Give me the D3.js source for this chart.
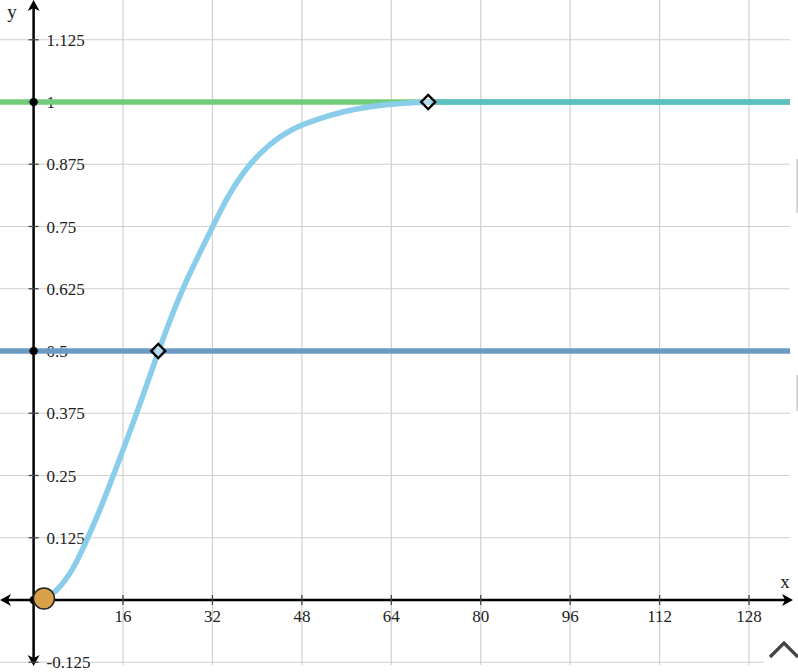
<!DOCTYPE html>
<html lang="en">
<head>
<meta charset="UTF-8">
<title>Curve</title>
<script src="https://d3js.org/d3.v7.min.js"></script>
<style>
    body { margin: 0; background: #fff; }
    svg { display: block; }
    .tick-label { font-family: "Liberation Serif", serif; font-size: 17px; fill: #222; }
    .axis-name { font-family: "Liberation Serif", serif; font-size: 19px; fill: #222; }
</style>
</head>
<body>
<svg id="chart" width="798" height="672"></svg>
<script>
    // tick values
    const xTicks = [16, 32, 48, 64, 80, 96, 112, 128];
    const yTicks = [-0.125, 0.125, 0.25, 0.375, 0.5, 0.625, 0.75, 0.875, 1, 1.125];
    const yTickLabels = ["-0.125", "0.125", "0.25", "0.375", "0.5", "0.625", "0.75", "0.875", "1", "1.125"];

    // rising curve
    const curveX = [1.85, 3.8, 7.1, 9.5, 11.9, 14.3, 18.5, 22.3, 26.5, 31.9, 34.8, 38.4, 42.0, 46.2, 51.2, 55.4, 60.2, 65.0, 70.6];
    const curveY = [0.003, 0.013, 0.060, 0.12, 0.181, 0.251, 0.375, 0.5, 0.625, 0.746, 0.813, 0.873, 0.914, 0.947, 0.967, 0.981, 0.991, 0.997, 1.0];
    // flat tail after the top point
    const tailX = [70.6, 136];
    const tailY = [1, 1];

    // horizontal lines y = 1 and y = 0.5
    const hLines = [1, 0.5];
    const hColors = ["#74cc7a", "#6b9bc4"];

    // marked points
    const diamondX = [22.3, 70.6];
    const diamondY = [0.5, 1];
    const startX = 1.85, startY = 0.003;
    const axisDotsY = [1, 0.5, 0];

    const paperW = 790, paperH = 665;

    const x = d3.scaleLinear().domain([0, 128]).range([33.6, 749]);
    const y = d3.scaleLinear().domain([0, 1]).range([600, 102]);

    const svg = d3.select("#chart");

    svg.append("clipPath").attr("id", "paper")
        .append("rect").attr("width", paperW).attr("height", paperH);

    // gridlines
    const grid = svg.append("g").attr("clip-path", "url(#paper)")
        .attr("stroke", "#cfcfcf").attr("stroke-width", 1.2);
    const xGrid = d3.range(-16, 144, 16);
    grid.selectAll(".gx").data(xGrid).join("line")
        .attr("x1", d => x(d)).attr("x2", d => x(d))
        .attr("y1", 0).attr("y2", paperH);
    grid.selectAll(".gy").data(yTicks).join("line")
        .attr("y1", d => y(d)).attr("y2", d => y(d))
        .attr("x1", 0).attr("x2", paperW);

    // tick labels
    svg.selectAll(".xl").data(xTicks).join("text")
        .attr("class", "tick-label")
        .attr("x", d => x(d)).attr("y", y(0) + 22)
        .attr("text-anchor", "middle")
        .text(d => d);
    svg.selectAll(".yl").data(yTicks).join("text")
        .attr("class", "tick-label")
        .attr("x", x(0) + 13).attr("y", d => y(d) + 6)
        .text((d, i) => yTickLabels[i]);

    // horizontal lines
    const lines = svg.append("g").attr("clip-path", "url(#paper)");
    lines.selectAll("line").data(hLines).join("line")
        .attr("x1", 0).attr("x2", paperW)
        .attr("y1", d => y(d)).attr("y2", d => y(d))
        .attr("stroke", (d, i) => hColors[i])
        .attr("stroke-width", 5.5);

    // curve (B-spline smooths reading noise)
    const line = d3.line()
        .x(d => x(d[0])).y(d => y(d[1]))
        .curve(d3.curveBasis);
    lines.append("path")
        .attr("d", line(d3.zip(tailX, tailY)))
        .attr("fill", "none").attr("stroke", "#5cbfc0").attr("stroke-width", 5.5);
    lines.append("path")
        .attr("d", line(d3.zip(curveX, curveY)))
        .attr("fill", "none").attr("stroke", "#8acdea")
        .attr("stroke-width", 5.5).attr("stroke-linecap", "round");

    // axes
    const ax = svg.append("g").attr("stroke", "#000").attr("fill", "#000");
    ax.append("line").attr("x1", 4).attr("x2", 790)
        .attr("y1", y(0)).attr("y2", y(0)).attr("stroke-width", 2.5);
    ax.append("line").attr("x1", x(0)).attr("x2", x(0))
        .attr("y1", 4).attr("y2", 662).attr("stroke-width", 2.5);

    function arrow(tx, ty, angle) {
        ax.append("path")
            .attr("d", "M0,0 L-11,-6 L-8,0 L-11,6 Z")
            .attr("stroke", "none")
            .attr("transform", `translate(${tx},${ty}) rotate(${angle})`);
    }
    arrow(793, y(0), 0);
    arrow(0, y(0), 180);
    arrow(x(0), 0, -90);
    arrow(x(0), 666, 90);

    // small ticks
    ax.selectAll(".tx").data(xTicks).join("line")
        .attr("x1", d => x(d)).attr("x2", d => x(d))
        .attr("y1", y(0) - 5).attr("y2", y(0) + 5)
        .attr("stroke", "#444").attr("stroke-width", 1.3);
    ax.selectAll(".ty").data(yTicks).join("line")
        .attr("y1", d => y(d)).attr("y2", d => y(d))
        .attr("x1", x(0) - 5).attr("x2", x(0) + 5)
        .attr("stroke", "#444").attr("stroke-width", 1.3);

    svg.append("text").attr("class", "axis-name")
        .attr("x", 785).attr("y", 588).attr("text-anchor", "middle").text("x");
    svg.append("text").attr("class", "axis-name")
        .attr("x", 12).attr("y", 18).attr("text-anchor", "middle").text("y");

    // dots where the lines meet the y-axis
    svg.selectAll(".ad").data(axisDotsY).join("circle")
        .attr("cx", x(0)).attr("cy", d => y(d)).attr("r", 4).attr("fill", "#000");

    // hollow diamonds
    svg.selectAll(".dm").data(diamondX).join("rect")
        .attr("x", -5).attr("y", -5).attr("width", 10).attr("height", 10)
        .attr("transform", (d, i) => `translate(${x(d)},${y(diamondY[i])}) rotate(45)`)
        .attr("fill", "#fff").attr("fill-opacity", 0.35)
        .attr("stroke", "#000").attr("stroke-width", 2.3);

    // start point
    svg.append("circle")
        .attr("cx", x(startX)).attr("cy", y(startY)).attr("r", 10.5)
        .attr("fill", "#d9a04a").attr("stroke", "#222").attr("stroke-width", 1.5);

    // scrollbar remnants at right edge
    svg.append("rect").attr("x", 796.5).attr("y", 159).attr("width", 1.2).attr("height", 54).attr("fill", "#bbb");
    svg.append("rect").attr("x", 796.5).attr("y", 375).attr("width", 1.2).attr("height", 36).attr("fill", "#bbb");

    // collapse chevron
    svg.append("rect").attr("x", 764).attr("y", 630).attr("width", 34).attr("height", 42).attr("fill", "#fff");
    svg.append("path").attr("d", "M770,657 L784,643 L798,657")
        .attr("fill", "none").attr("stroke", "#444").attr("stroke-width", 3.2);
</script>
</body>
</html>
